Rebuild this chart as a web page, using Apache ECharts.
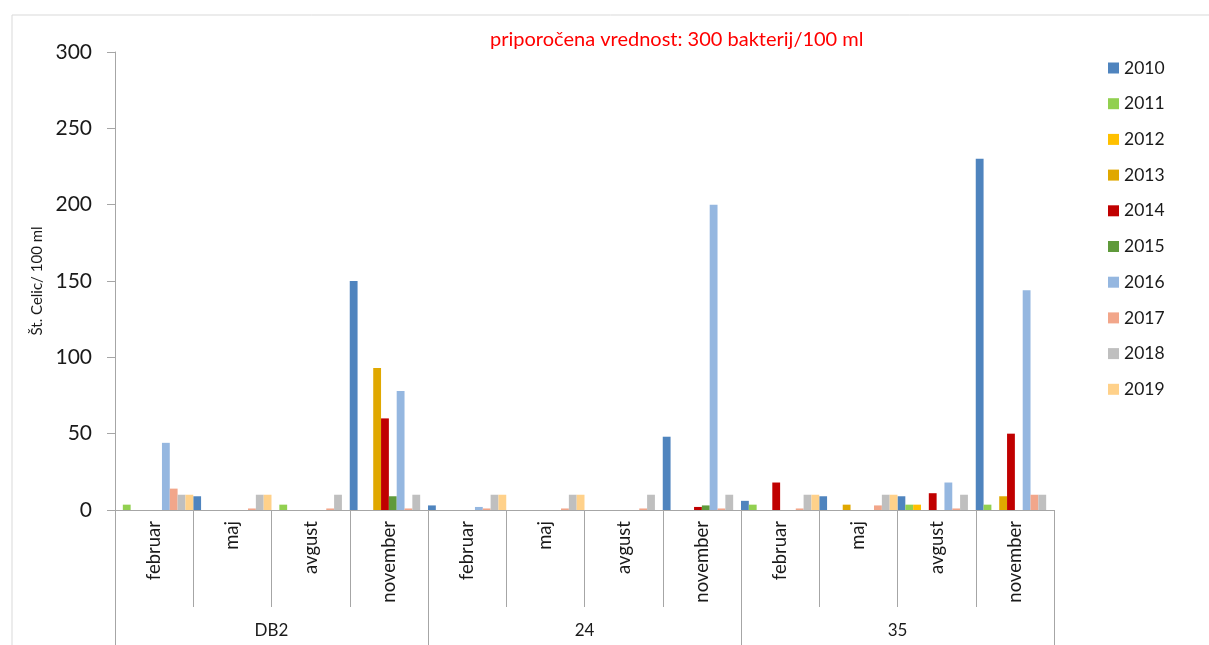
<!DOCTYPE html>
<html>
<head>
<meta charset="utf-8">
<script src="https://cdn.jsdelivr.net/npm/echarts@6/dist/echarts.min.js"></script>
<style>
html,body{margin:0;padding:0;background:#fff;}
#chart{width:1209px;height:645px;}
</style>
</head>
<body>
<div id="chart"></div>
<script>
// Categories (month within site) and site groups
const months = ['februar','maj','avgust','november','februar','maj','avgust','november','februar','maj','avgust','november'];
const sites = ['DB2','24','35'];
const years = ['2010','2011','2012','2013','2014','2015','2016','2017','2018','2019'];
const yTicks = [0, 50, 100, 150, 200, 250, 300];

// Values per year, in category order (DB2 feb..nov, 24 feb..nov, 35 feb..nov)
const v2010 = [null, 9, null, 150, 3, null, null, 48, 6, 9, 9, 230];
const v2011 = [3.5, null, 3.5, null, null, null, null, null, 3.5, null, 3.5, 3.5];
const v2012 = [null, null, null, null, null, null, null, null, null, null, 3.5, null];
const v2013 = [null, null, null, 93, null, null, null, null, null, 3.5, null, 9];
const v2014 = [null, null, null, 60, null, null, null, 2, 18, null, 11, 50];
const v2015 = [null, null, null, 9, null, null, null, 3, null, null, null, null];
const v2016 = [44, null, null, 78, 2, null, null, 200, null, null, 18, 144];
const v2017 = [14, 1, 1, 1, 1, 1, 1, 1, 1, 3, 1, 10];
const v2018 = [10, 10, 10, 10, 10, 10, 10, 10, 10, 10, 10, 10];
const v2019 = [10, 10, null, null, 10, 10, null, null, 10, 10, null, null];

const values = [v2010, v2011, v2012, v2013, v2014, v2015, v2016, v2017, v2018, v2019];
const colors = ['#4F84BE', '#92D050', '#FFC000', '#E0A800', '#C00000', '#5F9A3B', '#95B7E0', '#F2A68A', '#BFBFBF', '#FFD18A'];

const FONT = 'Lato, "Open Sans", sans-serif';
const axisGray = '#A6A6A6';

const chart = echarts.init(document.getElementById('chart'), null, {renderer: 'canvas'});

const series = years.map((y, i) => ({
  name: y,
  type: 'bar',
  xAxisIndex: 0,
  data: values[i],
  itemStyle: {color: colors[i]},
  barGap: '0%',
  barCategoryGap: '0%',
  emphasis: {disabled: true}
}));

chart.setOption({
  animation: false,
  backgroundColor: '#ffffff',
  color: colors,
  title: {
    text: 'priporočena vrednost: 300 bakterij/100 ml',
    left: 485,
    top: 25,
    textStyle: {color: '#FF0000', fontSize: 20, fontWeight: 'normal', fontFamily: FONT}
  },
  legend: {
    orient: 'vertical',
    left: 1103,
    top: 54,
    itemWidth: 11,
    itemHeight: 11,
    itemGap: 17.7,
    icon: 'rect',
    textStyle: {fontSize: 17.5, lineHeight: 16, color: '#1a1a1a', fontFamily: FONT},
    data: years
  },
  grid: {left: 115, right: 155, top: 52, bottom: 135, containLabel: false},
  xAxis: [
    {
      type: 'category',
      data: months,
      position: 'bottom',
      axisLine: {show: true, lineStyle: {color: axisGray, width: 1}},
      axisTick: {show: true, length: 97, lineStyle: {color: axisGray}},
      axisLabel: {interval: 0, rotate: 90, margin: 11, fontSize: 18.5, color: '#1a1a1a', fontFamily: FONT},
      splitLine: {show: false}
    },
    {
      type: 'category',
      data: sites,
      position: 'bottom',
      axisLine: {show: false},
      axisTick: {show: true, length: 135, lineStyle: {color: axisGray}},
      axisLabel: {interval: 0, margin: 112, fontSize: 17, color: '#1a1a1a', fontFamily: FONT},
      splitLine: {show: false}
    }
  ],
  yAxis: {
    type: 'value',
    min: yTicks[0],
    max: yTicks[yTicks.length - 1],
    interval: yTicks[1] - yTicks[0],
    name: 'Št. Celic/ 100 ml',
    nameLocation: 'middle',
    nameGap: 69,
    nameTextStyle: {fontSize: 15, color: '#1a1a1a', fontFamily: FONT},
    axisLine: {show: true, lineStyle: {color: axisGray}},
    axisTick: {show: true, length: 8, lineStyle: {color: axisGray}},
    axisLabel: {margin: 23, fontSize: 21, color: '#1a1a1a', fontFamily: FONT},
    splitLine: {show: false}
  },
  graphic: [
    {type: 'line', shape: {x1: 12, y1: 15, x2: 1209, y2: 15}, style: {stroke: '#D9D9D9', lineWidth: 1}, silent: true},
    {type: 'line', shape: {x1: 12, y1: 15, x2: 12, y2: 645}, style: {stroke: '#D9D9D9', lineWidth: 1}, silent: true}
  ],
  series: series
});
</script>
</body>
</html>
